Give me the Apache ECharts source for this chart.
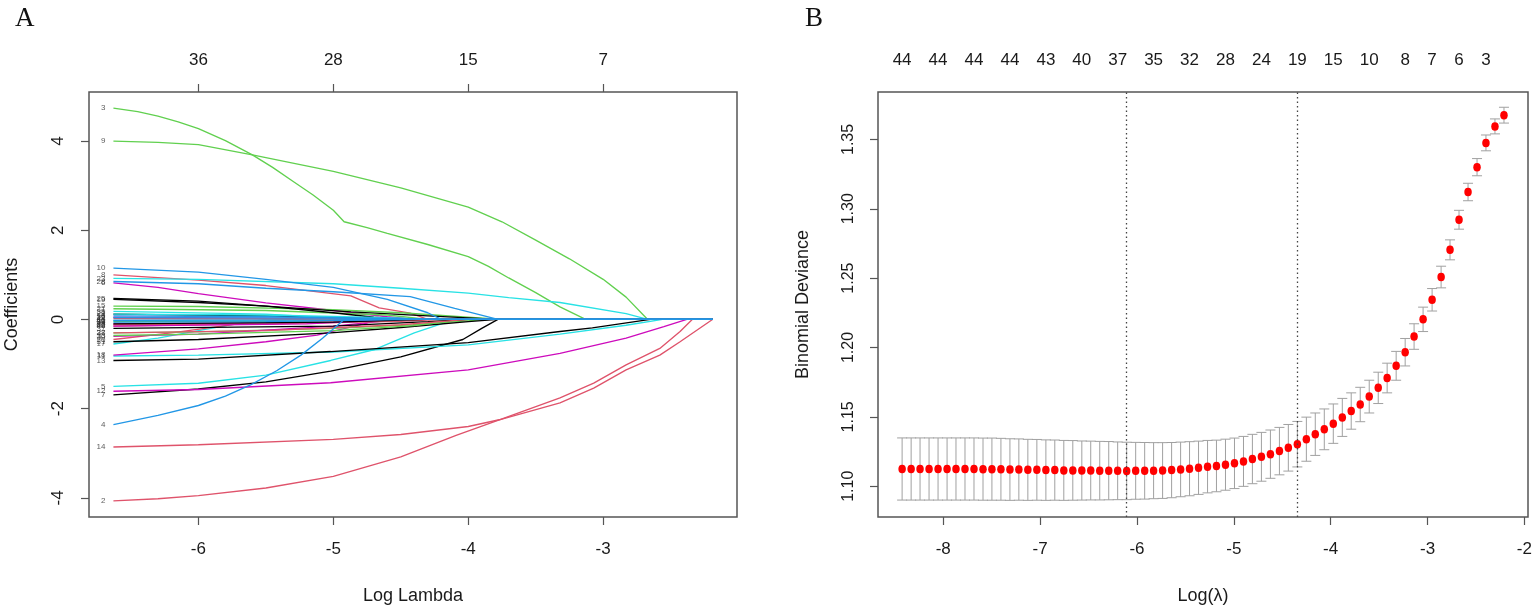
<!DOCTYPE html>
<html>
<head>
<meta charset="utf-8">
<script src="https://cdn.jsdelivr.net/npm/echarts@6/dist/echarts.min.js"></script>
<style>
html, body { margin: 0; padding: 0; background: #fff; }
#chart { width: 1535px; height: 610px; }
</style>
</head>
<body>
<div id="chart"></div>
<script>
// ---------- 面板A：系数路径 (log lambda, coefficient) ----------
var v01 = [[-6.63, 0.12], [-5.5, 0.08], [-4.9, 0.03], [-4.6, 0], [-2.19, 0]];
var v02 = [[-6.63, -4.07], [-6.3, -4.02], [-6.0, -3.95], [-5.5, -3.78], [-5.0, -3.52], [-4.5, -3.08], [-4.09, -2.6], [-3.77, -2.25], [-3.32, -1.76], [-3.07, -1.43], [-2.83, -1.02], [-2.58, -0.65], [-2.43, -0.27], [-2.34, 0], [-2.19, 0]];
var v03 = [[-6.63, 4.74], [-6.45, 4.66], [-6.3, 4.56], [-6.15, 4.43], [-6.0, 4.28], [-5.8, 4.01], [-5.6, 3.69], [-5.45, 3.41], [-5.3, 3.1], [-5.15, 2.79], [-5.0, 2.45], [-4.92, 2.19], [-4.75, 2.06], [-4.6, 1.93], [-4.3, 1.68], [-4.0, 1.41], [-3.85, 1.19], [-3.7, 0.93], [-3.5, 0.6], [-3.32, 0.28], [-3.13, 0], [-2.19, 0]];
var v04 = [[-6.63, -2.36], [-6.3, -2.15], [-6.0, -1.93], [-5.8, -1.72], [-5.61, -1.46], [-5.42, -1.15], [-5.24, -0.8], [-5.08, -0.42], [-4.92, 0], [-2.19, 0]];
var v05 = [[-6.63, -1.5], [-6.0, -1.43], [-5.5, -1.25], [-5.02, -0.92], [-4.7, -0.68], [-4.4, -0.3], [-4.1, 0], [-2.19, 0]];
var v06 = [[-6.63, 0.82], [-6.3, 0.72], [-6.0, 0.58], [-5.5, 0.37], [-5.0, 0.2], [-4.6, 0.06], [-4.4, 0], [-2.19, 0]];
var v07 = [[-6.63, -1.69], [-6.0, -1.56], [-5.5, -1.4], [-5.02, -1.16], [-4.5, -0.84], [-4.04, -0.45], [-3.9, -0.2], [-3.78, 0], [-2.19, 0]];
var v08 = [[-6.63, 1.0], [-6.0, 0.88], [-5.5, 0.76], [-4.87, 0.53], [-4.66, 0.26], [-4.43, 0.14], [-4.3, 0], [-2.19, 0]];
var v09 = [[-6.63, 4.0], [-6.3, 3.97], [-6.0, 3.92], [-5.6, 3.69], [-5.0, 3.32], [-4.5, 2.95], [-4.0, 2.52], [-3.75, 2.19], [-3.5, 1.78], [-3.25, 1.36], [-3.0, 0.9], [-2.83, 0.5], [-2.67, 0], [-2.19, 0]];
var v10 = [[-6.63, 1.15], [-6.0, 1.06], [-5.5, 0.9], [-5.0, 0.72], [-4.6, 0.45], [-4.3, 0.15], [-4.2, 0], [-2.19, 0]];
var v11 = [[-6.63, -0.82], [-6.0, -0.8], [-5.0, -0.73], [-4.0, -0.57], [-3.32, -0.33], [-2.83, -0.13], [-2.56, 0], [-2.19, 0]];
var v12 = [[-6.63, -1.61], [-6.0, -1.57], [-5.02, -1.42], [-4.0, -1.13], [-3.32, -0.76], [-2.83, -0.42], [-2.55, -0.16], [-2.38, 0], [-2.19, 0]];
var v13 = [[-6.63, -0.92], [-6.0, -0.89], [-5.02, -0.72], [-4.0, -0.52], [-3.32, -0.27], [-3.08, -0.19], [-2.65, 0], [-2.19, 0]];
var v14 = [[-6.63, -2.86], [-6.0, -2.81], [-5.0, -2.69], [-4.5, -2.58], [-4.0, -2.4], [-3.77, -2.25], [-3.32, -1.87], [-3.07, -1.54], [-2.83, -1.13], [-2.58, -0.8], [-2.43, -0.5], [-2.19, 0]];
var v15 = [[-6.63, 0.3], [-6.0, 0.29], [-5.0, 0.22], [-4.5, 0.15], [-4.0, 0.05], [-3.75, 0], [-2.19, 0]];
var v16 = [[-6.63, 0.08], [-5.5, 0.06], [-4.5, 0.02], [-4.3, 0], [-2.19, 0]];
var v17 = [[-6.63, -0.55], [-6.3, -0.42], [-6.0, -0.25], [-5.63, -0.05], [-5.5, 0], [-2.19, 0]];
var v18 = [[-6.63, -0.8], [-6.0, -0.66], [-5.5, -0.5], [-5.12, -0.35], [-4.76, -0.09], [-4.68, 0], [-2.19, 0]];
var v19 = [[-6.63, 0.45], [-6.0, 0.38], [-5.5, 0.3], [-4.87, 0.17], [-4.3, 0.08], [-3.78, 0], [-2.19, 0]];
var v20 = [[-6.63, -0.45], [-6.2, -0.3], [-5.58, -0.05], [-5.3, 0], [-2.19, 0]];
var v21 = [[-6.63, 0.24], [-5.5, 0.2], [-4.6, 0.1], [-4.3, 0], [-2.19, 0]];
var v22 = [[-6.63, 0.04], [-5.0, 0.03], [-4.2, 0], [-2.19, 0]];
var v23 = [[-6.63, 0.92], [-6.0, 0.9], [-5.0, 0.8], [-4.5, 0.7], [-4.0, 0.59], [-3.7, 0.49], [-3.32, 0.38], [-2.83, 0.13], [-2.67, 0], [-2.19, 0]];
var v24 = [[-6.63, -0.1], [-5.5, -0.08], [-4.6, 0], [-2.19, 0]];
var v25 = [[-6.63, 0.47], [-6.0, 0.41], [-5.5, 0.3], [-5.0, 0.15], [-4.7, 0.05], [-4.5, 0], [-2.19, 0]];
var v26 = [[-6.63, -0.15], [-5.5, -0.1], [-4.6, 0], [-2.19, 0]];
var v27 = [[-6.63, -0.3], [-6.0, -0.28], [-5.0, -0.2], [-4.41, -0.12], [-3.85, 0], [-2.19, 0]];
var v28 = [[-6.63, 0.85], [-6.0, 0.8], [-5.5, 0.7], [-5.0, 0.62], [-4.43, 0.51], [-4.1, 0.25], [-3.78, 0], [-2.19, 0]];
var v29 = [[-6.63, 0.12], [-5.5, 0.1], [-4.6, 0.04], [-4.3, 0], [-2.19, 0]];
var v30 = [[-6.63, -0.38], [-6.0, -0.33], [-5.0, -0.15], [-4.5, 0], [-2.19, 0]];
var v31 = [[-6.63, -0.5], [-6.0, -0.45], [-5.02, -0.3], [-4.5, -0.18], [-4.0, -0.05], [-3.78, 0], [-2.19, 0]];
var v32 = [[-6.63, -0.12], [-5.5, -0.1], [-4.5, -0.04], [-4.2, 0], [-2.19, 0]];
var v33 = [[-6.63, -0.36], [-6.0, -0.33], [-5.0, -0.25], [-4.4, -0.14], [-4.0, 0], [-2.19, 0]];
var v34 = [[-6.63, -0.06], [-5.5, -0.05], [-4.4, 0], [-2.19, 0]];
var v35 = [[-6.63, 0.18], [-5.5, 0.12], [-4.8, 0], [-2.19, 0]];
var v36 = [[-6.63, 0.05], [-5.5, 0.03], [-4.9, 0], [-2.19, 0]];
var v37 = [[-6.63, -0.2], [-5.0, -0.15], [-4.3, -0.05], [-4.0, 0], [-2.19, 0]];
var v38 = [[-6.63, -0.3], [-5.5, -0.25], [-4.5, -0.12], [-4.0, 0], [-2.19, 0]];
var v39 = [[-6.63, -0.05], [-5.3, -0.04], [-4.7, 0], [-2.19, 0]];
var v40 = [[-6.63, -0.02], [-5.0, -0.01], [-4.6, 0], [-2.19, 0]];
var v41 = [[-6.63, -0.02], [-5.2, -0.01], [-4.9, 0], [-2.19, 0]];
var v42 = [[-6.63, -0.15], [-5.2, -0.1], [-4.5, 0], [-2.19, 0]];
var v43 = [[-6.63, -0.1], [-5.0, -0.06], [-4.3, 0], [-2.19, 0]];
var v44 = [[-6.63, 0.02], [-5.0, 0.01], [-4.8, 0], [-2.19, 0]];

var coefPaths = [v01, v02, v03, v04, v05, v06, v07, v08, v09, v10, v11, v12, v13, v14, v15, v16, v17, v18, v19, v20, v21, v22,
                 v23, v24, v25, v26, v27, v28, v29, v30, v31, v32, v33, v34, v35, v36, v37, v38, v39, v40, v41, v42, v43, v44];
// 绘制顺序（最后画的压在0线上）
var drawOrder = [1, 2, 3, 5, 6, 7, 8, 9, 11, 12, 13, 14, 15, 17, 18, 19, 20, 21, 23, 24, 25, 26, 27, 29, 30, 31, 32, 33,
                 35, 36, 37, 38, 39, 41, 42, 43, 44, 16, 22, 34, 40, 4, 10, 28];
var rPalette = ['#000000', '#DF536B', '#61D04F', '#2297E6', '#28E2E5', '#CD0BBC'];
var topTickA = [-6, -5, -4, -3];
var topLabelA = ['36', '28', '15', '7'];
var xTickA = [-6, -5, -4, -3];
var yTickA = [-4, -2, 0, 2, 4];

// ---------- 面板B：交叉验证 ----------
var logLambdaB = [-8.424, -8.331, -8.239, -8.146, -8.053, -7.960, -7.868, -7.775, -7.682, -7.589,
                  -7.497, -7.404, -7.311, -7.219, -7.126, -7.033, -6.940, -6.848, -6.755, -6.662,
                  -6.569, -6.477, -6.384, -6.291, -6.199, -6.106, -6.013, -5.920, -5.828, -5.735,
                  -5.642, -5.549, -5.457, -5.364, -5.271, -5.179, -5.086, -4.993, -4.900, -4.808,
                  -4.715, -4.622, -4.529, -4.437, -4.344, -4.251, -4.159, -4.066, -3.973, -3.880,
                  -3.788, -3.695, -3.602, -3.509, -3.417, -3.324, -3.231, -3.139, -3.046, -2.953,
                  -2.860, -2.768, -2.675, -2.582, -2.489, -2.397, -2.304, -2.211];
var cvMean = [1.1124, 1.1124, 1.1124, 1.1124, 1.1124, 1.1124, 1.1124, 1.1124, 1.1124, 1.1123,
              1.1123, 1.1122, 1.1120, 1.1120, 1.1118, 1.1118, 1.1116, 1.1116, 1.1114, 1.1114,
              1.1113, 1.1113, 1.1112, 1.1112, 1.1111, 1.1110, 1.1111, 1.1111, 1.1112, 1.1113,
              1.1116, 1.1121, 1.1126, 1.1133, 1.1141, 1.1146, 1.1155, 1.1165, 1.1179, 1.1196,
              1.1212, 1.1231, 1.1253, 1.1277, 1.1303, 1.1339, 1.1375, 1.1410, 1.1451, 1.1496,
              1.1542, 1.1589, 1.1646, 1.1709, 1.1780, 1.1868, 1.1966, 1.2079, 1.2203, 1.2344,
              1.2508, 1.2704, 1.2921, 1.3121, 1.3300, 1.3475, 1.3594, 1.3675];
var cvSd = [0.0224, 0.0224, 0.0224, 0.0224, 0.0224, 0.0224, 0.0224, 0.0224, 0.0224, 0.0224,
            0.0224, 0.0223, 0.0222, 0.0221, 0.0220, 0.0219, 0.0218, 0.0217, 0.0216, 0.0215,
            0.0213, 0.0212, 0.0211, 0.0210, 0.0208, 0.0207, 0.0205, 0.0204, 0.0202, 0.0201,
            0.0199, 0.0197, 0.0195, 0.0192, 0.0189, 0.0186, 0.0184, 0.0182, 0.0180, 0.0178,
            0.0176, 0.0174, 0.0171, 0.0168, 0.0164, 0.0159, 0.0153, 0.0147, 0.0142, 0.0137,
            0.0131, 0.0124, 0.0118, 0.0113, 0.0107, 0.0104, 0.0099, 0.0092, 0.0088, 0.0081,
            0.0078, 0.0072, 0.0068, 0.0063, 0.0062, 0.0057, 0.0054, 0.0057];
var idxMin = 25;   // lambda.min
var idx1se = 44;   // lambda.1se
var nzeroIdx = [0, 4, 8, 12, 16, 20, 24, 28, 32, 36, 40, 44, 48, 52, 56, 59, 62, 65];
var nzeroLabels = ['44', '44', '44', '44', '43', '40', '37', '35', '32', '28', '24', '19', '15', '10', '8', '7', '6', '3'];
var xTickB = [-8, -7, -6, -5, -4, -3, -2];
var yTickB = [1.10, 1.15, 1.20, 1.25, 1.30, 1.35];

// ---------- 公共样式 ----------
var sans = 'Liberation Sans';
var txt = '#1a1a1a';
var boxCol = '#555';

function tickAxis(opt) {
    return {
        type: 'value',
        gridIndex: opt.grid,
        position: opt.pos,
        min: opt.min,
        max: opt.max,
        name: opt.name || '',
        nameLocation: 'middle',
        nameGap: opt.nameGap || 0,
        nameRotate: opt.nameRotate,
        nameTextStyle: { fontFamily: sans, fontSize: 18, color: txt },
        splitLine: { show: false },
        axisLine: { show: false, onZero: false },
        axisTick: {
            show: opt.ticks !== false,
            customValues: opt.ticks === false ? undefined : opt.values,
            length: 8,
            lineStyle: { color: boxCol, width: 1.2 }
        },
        axisLabel: {
            customValues: opt.values,
            margin: opt.margin,
            rotate: opt.rotate || 0,
            fontFamily: sans,
            fontSize: opt.fontSize || 17,
            color: txt,
            formatter: opt.formatter
        }
    };
}

function nearestLabel(values, labels) {
    return function (v) {
        var best = 0;
        for (var i = 1; i < values.length; i++) {
            if (Math.abs(values[i] - v) < Math.abs(values[best] - v)) best = i;
        }
        return labels[best];
    };
}

// 路径线
var seriesList = [];
for (var k = 0; k < drawOrder.length; k++) {
    var id = drawOrder[k];
    seriesList.push({
        type: 'line',
        xAxisIndex: 0,
        yAxisIndex: 0,
        data: coefPaths[id - 1],
        showSymbol: false,
        symbol: 'none',
        silent: true,
        lineStyle: { color: rPalette[(id - 1) % 6], width: 1.35 },
        z: 2
    });
}
// 左侧变量编号
var startLabels = [];
for (var j = 0; j < coefPaths.length; j++) {
    startLabels.push([coefPaths[j][0][0], coefPaths[j][0][1], String(j + 1)]);
}
seriesList.push({
    type: 'scatter',
    xAxisIndex: 0,
    yAxisIndex: 0,
    data: startLabels,
    symbolSize: 0,
    silent: true,
    label: {
        show: true,
        position: 'left',
        distance: 8,
        fontFamily: sans,
        fontSize: 8,
        color: '#333',
        formatter: function (p) { return p.value[2]; }
    }
});

// 误差线
var barData = logLambdaB.map(function (x, i) {
    return [x, cvMean[i] + cvSd[i], cvMean[i] - cvSd[i]];
});
seriesList.push({
    type: 'custom',
    xAxisIndex: 2,
    yAxisIndex: 1,
    data: barData,
    silent: true,
    z: 2,
    renderItem: function (params, api) {
        var hi = api.coord([api.value(0), api.value(1)]);
        var lo = api.coord([api.value(0), api.value(2)]);
        var w = 5;
        var st = { stroke: '#a0a0a0', lineWidth: 1 };
        return {
            type: 'group',
            children: [
                { type: 'line', shape: { x1: hi[0], y1: hi[1], x2: lo[0], y2: lo[1] }, style: st },
                { type: 'line', shape: { x1: hi[0] - w, y1: hi[1], x2: hi[0] + w, y2: hi[1] }, style: st },
                { type: 'line', shape: { x1: lo[0] - w, y1: lo[1], x2: lo[0] + w, y2: lo[1] }, style: st }
            ]
        };
    }
});
// 均值点 + 两条虚线
seriesList.push({
    type: 'scatter',
    xAxisIndex: 2,
    yAxisIndex: 1,
    data: logLambdaB.map(function (x, i) { return [x, cvMean[i]]; }),
    symbol: 'circle',
    symbolSize: [7.5, 8.5],
    silent: true,
    itemStyle: { color: '#ff0000', opacity: 1 },
    z: 3,
    markLine: {
        silent: true,
        symbol: ['none', 'none'],
        label: { show: false },
        lineStyle: { color: '#444', width: 1.3, type: [1.5, 3] },
        data: [{ xAxis: logLambdaB[idxMin] }, { xAxis: logLambdaB[idx1se] }]
    }
});

var chart = echarts.init(document.getElementById('chart'));
chart.setOption({
    animation: false,
    backgroundColor: '#fff',
    title: [
        { text: 'A', left: 10, top: 0, textStyle: { fontFamily: 'Liberation Serif', fontSize: 27, fontWeight: 'normal', color: '#111' } },
        { text: 'B', left: 800, top: 0, textStyle: { fontFamily: 'Liberation Serif', fontSize: 27, fontWeight: 'normal', color: '#111' } }
    ],
    grid: [
        { left: 89, top: 92, width: 648, height: 428, show: true, borderColor: boxCol, borderWidth: 1.5, backgroundColor: 'transparent' },
        { left: 878, top: 92, width: 650, height: 428, show: true, borderColor: boxCol, borderWidth: 1.5, backgroundColor: 'transparent' }
    ],
    xAxis: [
        tickAxis({ grid: 0, pos: 'bottom', min: -6.811, max: -2.008, values: xTickA, margin: 24, name: 'Log Lambda', nameGap: 70 }),
        tickAxis({ grid: 0, pos: 'top', min: -6.811, max: -2.008, values: topTickA, margin: 23,
                   formatter: nearestLabel(topTickA, topLabelA) }),
        tickAxis({ grid: 1, pos: 'bottom', min: -8.673, max: -1.963, values: xTickB, margin: 24, name: 'Log(\u03bb)', nameGap: 70 }),
        tickAxis({ grid: 1, pos: 'top', min: -8.673, max: -1.963, ticks: false,
                   values: nzeroIdx.map(function (i) { return logLambdaB[i]; }), margin: 23,
                   formatter: nearestLabel(nzeroIdx.map(function (i) { return logLambdaB[i]; }), nzeroLabels) })
    ],
    yAxis: [
        tickAxis({ grid: 0, pos: 'left', min: -4.43, max: 5.10, values: yTickA, margin: 22, rotate: 90,
                   name: 'Coefficients', nameGap: 68, nameRotate: 90 }),
        tickAxis({ grid: 1, pos: 'left', min: 1.0778, max: 1.3842, values: yTickB, margin: 21, rotate: 90, fontSize: 16,
                   name: 'Binomial Deviance', nameGap: 66, nameRotate: 90,
                   formatter: function (v) { return v.toFixed(2); } })
    ],
    series: seriesList
});
</script>
</body>
</html>
